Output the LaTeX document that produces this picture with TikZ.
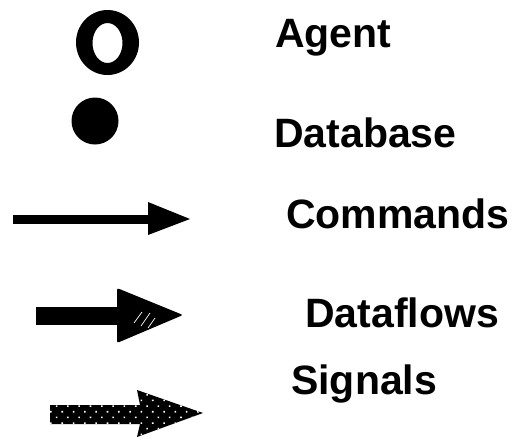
\documentclass[tikz,border=0pt]{standalone}
\usepackage{fontspec}
\setmainfont{Liberation Sans}
\usetikzlibrary{patterns.meta}
\begin{document}
\begin{tikzpicture}[x=1pt,y=-1pt,
    legendtext/.style={anchor=base west,inner sep=0pt,font=\fontsize{41}{41}\selectfont\bfseries}]
  \useasboundingbox (0,0) rectangle (513,440);

  % Agent symbol: thick ring
  \fill[black,even odd rule] (107.5,42.5) ellipse [x radius=31.5,y radius=32.5]
                             (107.5,43) ellipse [x radius=15,y radius=20];
  % Database symbol: filled disc
  \fill[black] (95,121) circle [radius=23.5];

  % Commands: thin arrow
  \fill[black] (13,214.5) rectangle (150,223.5);
  \fill[black] (148,202) -- (190,219) -- (148,235) -- cycle;

  % Dataflows: heavy arrow with light hatching in the head
  \fill[black] (36,307) rectangle (120,325);
  \fill[black,rounded corners=2pt] (117,288) -- (183,315) -- (117,343) -- cycle;
  \draw[white,line width=0.7pt] (134,323) -- (142,312)
                                 (141,326) -- (150,313)
                                 (148,328) -- (155,318);

  % Signals: black arrow sprinkled with white dots
  \path[fill=black,postaction={pattern={Dots[distance=8pt,angle=45,radius=1.1pt]},pattern color=white}]
    (50,405) -- (140,405) -- (137,390) -- (203,413) -- (137,437) -- (140,424) -- (50,424) -- cycle;

  % Labels
  \node[legendtext] (agent) at (275,47) {Agent};
  \node[legendtext] (database) at (274,147) {Database};
  \node[legendtext] (commands) at (286,228) {Commands};
  \node[legendtext] (dataflows) at (305,327) {Dataflows};
  \node[legendtext] (signals) at (291,394) {Signals};
\end{tikzpicture}
\end{document}
